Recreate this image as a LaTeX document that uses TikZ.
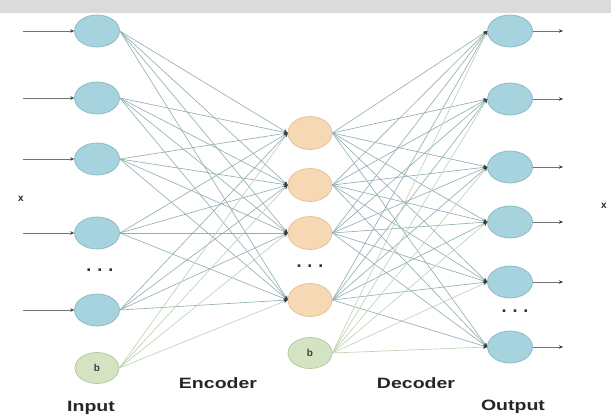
\documentclass[tikz,border=0pt]{standalone}
\usepackage{fontspec}
\setmainfont{Liberation Sans}
\usetikzlibrary{shapes.geometric,arrows.meta}
\definecolor{inblue}{HTML}{A6D3DD}
\definecolor{inblueb}{HTML}{86B9C4}
\definecolor{midor}{HTML}{F6D8B4}
\definecolor{midorb}{HTML}{E3C096}
\definecolor{biasg}{HTML}{D4E4C3}
\definecolor{biasgb}{HTML}{B0C99C}
\definecolor{wire}{HTML}{94AFB3}
\definecolor{wireg}{HTML}{BDD3B4}
\definecolor{tipc}{HTML}{34423F}
\newcommand\widetext[1]{\scalebox{1.3}[1]{#1}}
\tikzset{
  neuron/.style={ellipse, minimum width=45pt, minimum height=32pt, inner sep=0pt, draw=inblueb, fill=inblue, line width=0.7pt},
  hidden/.style={neuron, minimum width=44pt, minimum height=33pt, draw=midorb, fill=midor},
  bias/.style={neuron, minimum width=44pt, minimum height=31pt, draw=biasgb, fill=biasg, font=\fontsize{10}{10}\selectfont\bfseries, text=black!75},
  conn/.style={draw=wire, line width=0.65pt, -{Stealth[length=4pt,width=3.5pt,color=tipc]}},
  bconn/.style={conn, draw=wireg},
  io/.style={draw=black!55, line width=0.6pt, -{Stealth[length=4pt,width=3.5pt,color=tipc]}},
  lbl/.style={font=\fontsize{15}{15}\selectfont\bfseries, text=black!85},
  dots/.style={font=\fontsize{18}{18}\selectfont\bfseries, text=black!80},
  xl/.style={font=\fontsize{10}{10}\selectfont\bfseries, text=black!85}
}
\begin{document}
\begin{tikzpicture}[x=1pt,y=-1pt]
\useasboundingbox (0,0) rectangle (611,417);
\fill[gray!28] (0,0) rectangle (611,13);
% input layer
\foreach \n/\y in {1/31,2/98,3/159,4/233,5/310}{
  \node[neuron] (i\n) at (97,\y) {};
  \coordinate (s\n) at (23,\y);
}
\node[bias] (ib) at (97,368) {b};
\node[dots] (idots) at (100,270) {.\,\,.\,\,.};
% hidden layer
\foreach \n/\y in {1/133,2/185,3/233,4/300}{
  \node[hidden] (m\n) at (310,\y) {};
}
\node[bias] (mb) at (310,353) {b};
\node[dots] (mdots) at (310,266) {.\,\,.\,\,.};
% output layer
\foreach \n/\y in {1/31,2/99,3/167,4/222,5/282,6/347}{
  \node[neuron] (o\n) at (510,\y) {};
  \coordinate (e\n) at (563,\y);
}
\node[dots] (odots) at (515,311) {.\,\,.\,\,.};
% connections encoder
\foreach \a in {1,...,5}{
  \foreach \b in {1,...,4}{
    \draw[conn] (i\a.east) -- (m\b.west);
  }
}
\foreach \b in {1,...,4}{\draw[bconn] (ib.east) -- (m\b.west);}
% connections decoder
\foreach \a in {1,...,4}{
  \foreach \b in {1,...,6}{
    \draw[conn] (m\a.east) -- (o\b.west);
  }
}
\foreach \b in {1,...,6}{\draw[bconn] (mb.east) -- (o\b.west);}
% input / output arrows
\foreach \n in {1,...,5}{\draw[io] (s\n) -- (i\n.west);}
\foreach \n in {1,...,6}{\draw[io] (o\n.east) -- (e\n);}
% labels
\node[xl] (xin) at (21,199) {x};
\node[xl] (xout) at (604,206) {x};
\node[lbl] (tin) at (91,408) {\widetext{Input}};
\node[lbl] (tenc) at (218,383) {\widetext{Encoder}};
\node[lbl] (tdec) at (416,383) {\widetext{Decoder}};
\node[lbl] (tout) at (513,407) {\widetext{Output}};
\end{tikzpicture}
\end{document}
